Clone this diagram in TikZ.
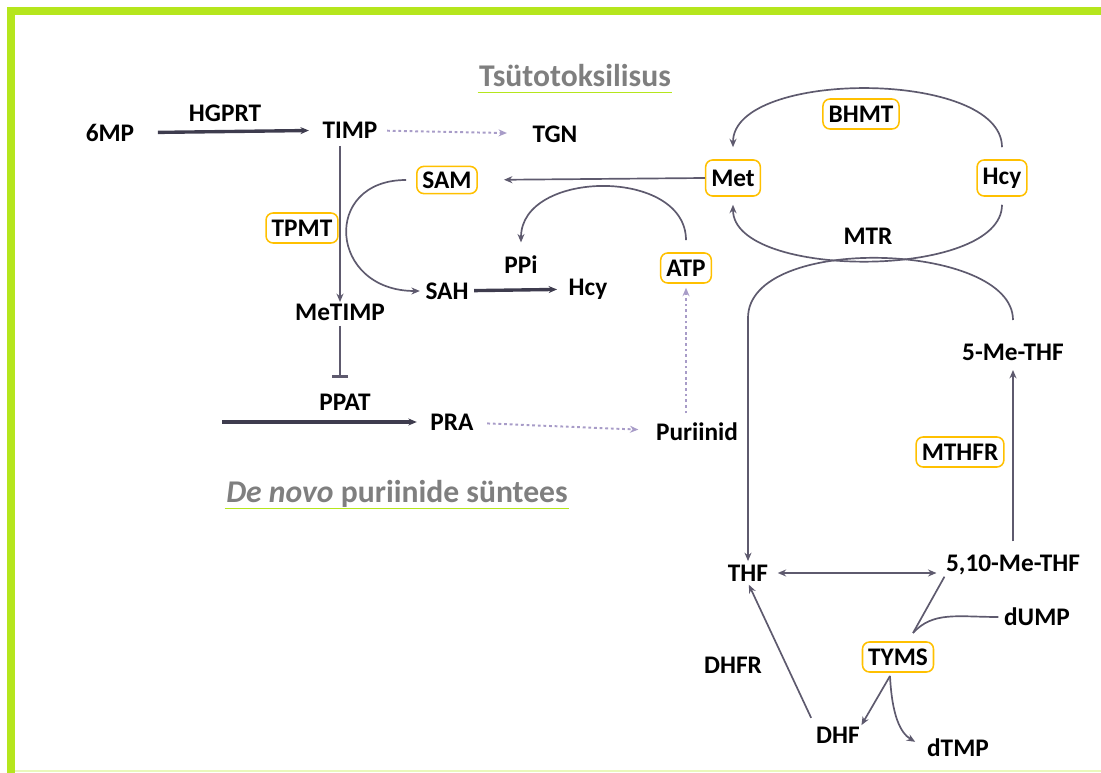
\documentclass[tikz,border=0pt]{standalone}
\usepackage{fontspec}
\setmainfont{Carlito}
\usepackage{tikz}
\usetikzlibrary{arrows.meta, positioning}
\definecolor{lime}{HTML}{B5E61D}
\definecolor{enzgold}{HTML}{FFC000}
\definecolor{linegray}{HTML}{5E5A6E}
\definecolor{darkline}{HTML}{3E3C4E}
\definecolor{dotpurple}{HTML}{A89CC8}
\definecolor{titlegray}{HTML}{7F7F7F}

\begin{document}
\begin{tikzpicture}[x=0.025cm, y=-0.025cm,
    lbl/.style={font=\fontsize{18}{20}\selectfont\bfseries, inner sep=1pt},
    enz/.style={lbl, draw=enzgold, line width=1.1pt, rounded corners=5pt, inner xsep=4pt, minimum height=0.75cm},
    bigenz/.style={enz, minimum height=0.9cm},
    heading/.style={font=\fontsize{22.5}{24}\selectfont\bfseries, text=titlegray, inner sep=1pt},
    arrow/.style={-{Stealth[length=6pt,width=5pt]}, linegray, line width=1.2pt},
    plain/.style={linegray, line width=1.2pt},
    thickarrow/.style={arrow, darkline, line width=2.4pt},
    dotarrow/.style={arrow, dotpurple, line width=1.4pt, dash pattern=on 2pt off 2pt},
    inhib/.style={linegray, line width=1.2pt, -{Bar[width=0.4cm, line width=2.4pt]}}
]
\useasboundingbox (0,0) rectangle (1101,773);
\draw[lime, line width=0.2cm] (11,773) -- (11,11) -- (1101,11);
\draw[lime!30, line width=1pt] (15,771) -- (1101,771);

% headings
\node[heading, anchor=base] (cyto) at (575,87) {Tsütotoksilisus};
\draw[lime, line width=1.2pt] ([yshift=-4pt]cyto.base west) -- ([yshift=-4pt]cyto.base east);
\node[heading, anchor=base] (denovo) at (397,503) {\textit{De novo} puriinide süntees};
\draw[lime, line width=1.2pt] ([yshift=-4pt]denovo.base west) -- ([yshift=-4pt]denovo.base east);

% thiopurine side
\node[lbl] (mp)     at (110,133) {6MP};
\node[lbl] (hgprt)  at (225,113) {HGPRT};
\node[lbl] (timp)   at (350,130) {TIMP};
\node[lbl] (tgn)    at (555,134) {TGN};
\node[enz, minimum height=0.68cm] (sam) at (447,180) {SAM};
\node[enz] (tpmt)   at (302,228) {TPMT};
\node[lbl] (metimp) at (340,312) {MeTIMP};
\node[lbl] (sah)    at (447,291) {SAH};
\node[lbl] (ppi)    at (521,265) {PPi};
\node[lbl] (hcyl)   at (588,289) {Hcy};
\node[enz] (atp)    at (686,268) {ATP};
\node[lbl] (ppat)   at (345,402) {PPAT};
\node[lbl] (pra)    at (452,422) {PRA};
\node[lbl] (pur)    at (697,432) {Puriinid};
\coordinate (prain) at (222,422);

% methionine and folate cycles
\node[bigenz] (met)  at (733,178) {Met};
\node[bigenz] (hcyr) at (1002,178) {Hcy};
\node[enz] (bhmt)    at (861,114) {BHMT};
\node[lbl] (mtr)     at (868,236) {MTR};
\node[lbl] (methf)   at (1013,352) {5-Me-THF};
\node[enz] (mthfr)   at (960,452) {MTHFR};
\node[lbl] (mlthf)   at (1013,565) {5,10-Me-THF};
\node[lbl] (thf)     at (748,573) {THF};
\node[lbl] (dump)    at (1037,617) {dUMP};
\node[enz] (tyms)    at (898,657) {TYMS};
\node[lbl] (dhf)     at (838,735) {DHF};
\node[lbl] (dtmp)    at (958,748) {dTMP};
\node[lbl] (dhfr)    at (733,665) {DHFR};
\coordinate (mtrturn) at (748,318);
\coordinate (tymsin)  at (913,633);
\coordinate (tymsout) at (890,676);

\draw[thickarrow, shorten <=0.55cm, shorten >=0.3cm] (mp) -- (timp);
\draw[dotarrow, shorten <=0.2cm, shorten >=0.6cm] (timp) -- (tgn);
\draw[arrow, shorten <=0.15cm] (metimp.north |- timp.south) -- (metimp.north);
\draw[arrow, shorten >=0.65cm] (met.west) -- (sam.east);
\draw[arrow, shorten <=0.25cm, shorten >=0.1cm] (sam.west) .. controls +(-95,0) and +(-95,0) .. (sah.west);
\draw[arrow, shorten <=0.3cm, shorten >=0.3cm] (atp.north) .. controls +(0,-85) and +(0,-85) .. (ppi.north);
\draw[thickarrow, shorten <=0.1cm, shorten >=0.25cm] (sah) -- (hcyl);
\draw[dotarrow, shorten <=0.2cm, shorten >=0.1cm] (atp.south |- pur.north) -- (atp.south);
\draw[inhib, shorten <=0.1cm] (metimp.south) -- ++(0,56);
\draw[thickarrow, shorten >=0.3cm] (prain) -- (pra.west);
\draw[dotarrow, shorten <=0.3cm, shorten >=0.4cm] (pra) -- (pur);

\draw[arrow, shorten <=0.3cm, shorten >=0.3cm] (hcyr.north) .. controls +(0,-90) and +(0,-90) .. (met.north);
\draw[arrow, shorten <=0.2cm, shorten >=0.2cm] (hcyr.south) .. controls +(0,83) and +(0,83) .. (met.south);
\draw[arrow, shorten >=0.05cm] (methf.north) ++(0,-22) .. controls +(0,-78) and +(0,-85) .. (mtrturn) -- (thf.north);
\draw[arrow, shorten <=0.3cm, shorten >=0.2cm] (mlthf.north) -- (methf.south);
\draw[{Stealth[length=6pt,width=5pt]}-{Stealth[length=6pt,width=5pt]}, linegray, line width=1.2pt, shorten <=0.2cm, shorten >=0.2cm] (thf.east) -- (thf.east -| mlthf.west);
\draw[plain] (mlthf.south west) -- (tymsin);
\draw[plain, shorten <=0.1cm] (dump.west) .. controls +(-45,0) and +(20,-22) .. (tymsin);
\draw[arrow] (tymsout) -- (dhf.north east);
\draw[arrow, shorten >=0.3cm] (tymsout) .. controls +(2,40) and +(-25,-15) .. (dtmp.west);
\draw[arrow, shorten <=0.2cm, shorten >=0.05cm] (dhf.north west) -- (thf.south);
\end{tikzpicture}
\end{document}
